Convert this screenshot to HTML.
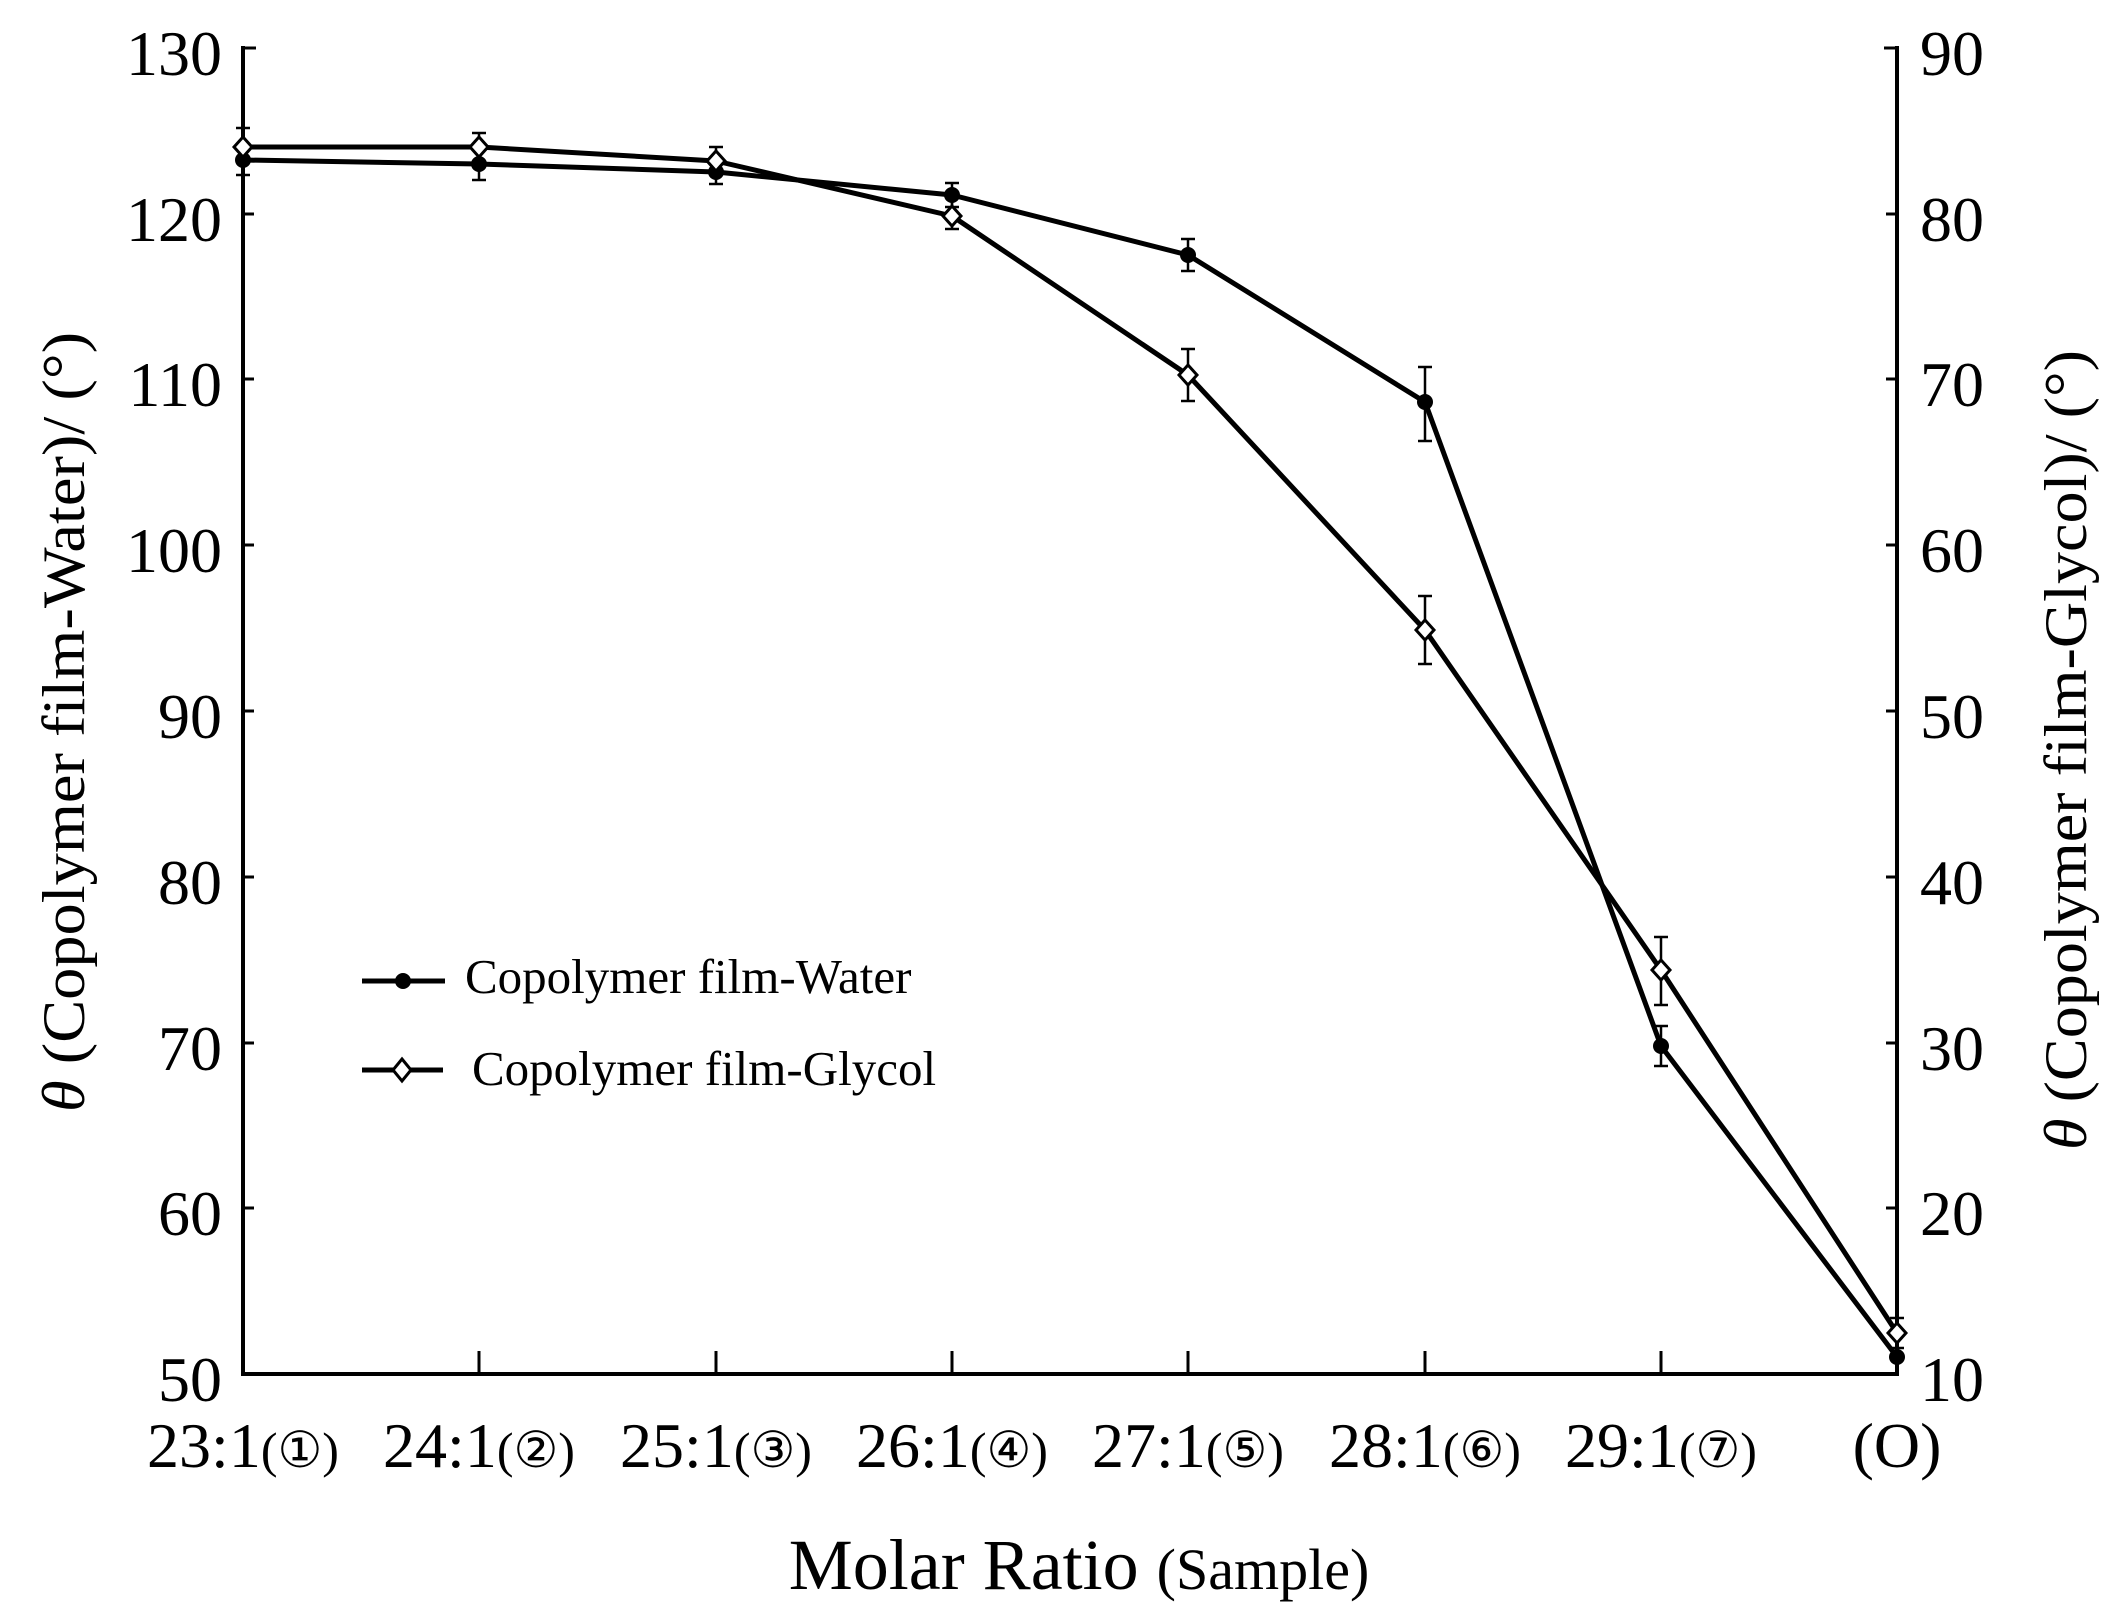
<!DOCTYPE html>
<html><head><meta charset="utf-8"><style>
html,body{margin:0;padding:0;background:#fff;}
svg{display:block;}
text{font-family:"Liberation Serif",serif;fill:#000;}
</style></head><body>
<svg width="2122" height="1604" viewBox="0 0 2122 1604" xmlns="http://www.w3.org/2000/svg">
<g stroke="#000" stroke-width="4" fill="none">
  <line x1="243" y1="46" x2="243" y2="1376"/>
  <line x1="241" y1="1374" x2="1899" y2="1374"/>
  <line x1="1897" y1="46" x2="1897" y2="1376"/>
</g>
<g stroke="#000" stroke-width="3">
  <line x1="243" y1="48" x2="256" y2="48"/><line x1="243" y1="214" x2="254" y2="214"/><line x1="243" y1="379" x2="254" y2="379"/><line x1="243" y1="545" x2="254" y2="545"/><line x1="243" y1="711" x2="254" y2="711"/><line x1="243" y1="877" x2="254" y2="877"/><line x1="243" y1="1043" x2="254" y2="1043"/><line x1="243" y1="1208" x2="254" y2="1208"/>
  <line x1="1884" y1="48" x2="1897" y2="48"/><line x1="1886" y1="214" x2="1897" y2="214"/><line x1="1886" y1="379" x2="1897" y2="379"/><line x1="1886" y1="545" x2="1897" y2="545"/><line x1="1886" y1="711" x2="1897" y2="711"/><line x1="1886" y1="877" x2="1897" y2="877"/><line x1="1886" y1="1043" x2="1897" y2="1043"/><line x1="1886" y1="1208" x2="1897" y2="1208"/>
  <line x1="479" y1="1351" x2="479" y2="1374"/><line x1="716" y1="1351" x2="716" y2="1374"/><line x1="952" y1="1351" x2="952" y2="1374"/><line x1="1188" y1="1351" x2="1188" y2="1374"/><line x1="1425" y1="1351" x2="1425" y2="1374"/><line x1="1661" y1="1351" x2="1661" y2="1374"/>
</g>
<g font-size="64" text-anchor="end">
  <text x="222" y="75">130</text><text x="222" y="241">120</text><text x="222" y="406">110</text><text x="222" y="572">100</text><text x="222" y="738">90</text><text x="222" y="904">80</text><text x="222" y="1070">70</text><text x="222" y="1235">60</text><text x="222" y="1401">50</text>
</g>
<g font-size="64" text-anchor="start">
  <text x="1920" y="75">90</text><text x="1920" y="241">80</text><text x="1920" y="406">70</text><text x="1920" y="572">60</text><text x="1920" y="738">50</text><text x="1920" y="904">40</text><text x="1920" y="1070">30</text><text x="1920" y="1235">20</text><text x="1920" y="1401">10</text>
</g>
<g font-size="64" text-anchor="middle">
  <text x="243" y="1467">23:1<tspan font-size="50">(①)</tspan></text>
  <text x="479" y="1467">24:1<tspan font-size="50">(②)</tspan></text>
  <text x="716" y="1467">25:1<tspan font-size="50">(③)</tspan></text>
  <text x="952" y="1467">26:1<tspan font-size="50">(④)</tspan></text>
  <text x="1188" y="1467">27:1<tspan font-size="50">(⑤)</tspan></text>
  <text x="1425" y="1467">28:1<tspan font-size="50">(⑥)</tspan></text>
  <text x="1661" y="1467">29:1<tspan font-size="50">(⑦)</tspan></text>
  <text x="1897" y="1467">(O)</text>
</g>
<text x="1079" y="1589" text-anchor="middle" font-size="72">Molar Ratio <tspan font-size="58">(Sample)</tspan></text>
<text transform="translate(84,722) rotate(-90)" text-anchor="middle" font-size="60" textLength="780" lengthAdjust="spacingAndGlyphs"><tspan font-style="italic">θ</tspan> (Copolymer film-Water)/ (°)</text>
<text transform="translate(2086,750) rotate(-90)" text-anchor="middle" font-size="60" textLength="800" lengthAdjust="spacingAndGlyphs"><tspan font-style="italic">θ</tspan> (Copolymer film-Glycol)/ (°)</text>
<g stroke="#000" stroke-width="2.5">
  <line x1="243" y1="145" x2="243" y2="175"/><line x1="236" y1="175" x2="250" y2="175"/>
  <line x1="479" y1="148" x2="479" y2="180"/><line x1="472" y1="180" x2="486" y2="180"/>
  <line x1="716" y1="160" x2="716" y2="184"/><line x1="709" y1="184" x2="723" y2="184"/>
  <line x1="952" y1="183" x2="952" y2="207"/><line x1="945" y1="183" x2="959" y2="183"/><line x1="945" y1="207" x2="959" y2="207"/>
  <line x1="1188" y1="239" x2="1188" y2="271"/><line x1="1181" y1="239" x2="1195" y2="239"/><line x1="1181" y1="271" x2="1195" y2="271"/>
  <line x1="1425" y1="367" x2="1425" y2="441"/><line x1="1418" y1="367" x2="1432" y2="367"/><line x1="1418" y1="441" x2="1432" y2="441"/>
  <line x1="1661" y1="1026" x2="1661" y2="1066"/><line x1="1654" y1="1026" x2="1668" y2="1026"/><line x1="1654" y1="1066" x2="1668" y2="1066"/>
  <line x1="243" y1="128" x2="243" y2="166"/><line x1="236" y1="128" x2="250" y2="128"/>
  <line x1="479" y1="133" x2="479" y2="161"/><line x1="472" y1="133" x2="486" y2="133"/>
  <line x1="716" y1="147" x2="716" y2="175"/><line x1="709" y1="147" x2="723" y2="147"/>
  <line x1="952" y1="203" x2="952" y2="229"/><line x1="945" y1="229" x2="959" y2="229"/>
  <line x1="1188" y1="349" x2="1188" y2="401"/><line x1="1181" y1="349" x2="1195" y2="349"/><line x1="1181" y1="401" x2="1195" y2="401"/>
  <line x1="1425" y1="596" x2="1425" y2="664"/><line x1="1418" y1="596" x2="1432" y2="596"/><line x1="1418" y1="664" x2="1432" y2="664"/>
  <line x1="1661" y1="937" x2="1661" y2="1005"/><line x1="1654" y1="937" x2="1668" y2="937"/><line x1="1654" y1="1005" x2="1668" y2="1005"/>
  <line x1="1897" y1="1318" x2="1897" y2="1348"/><line x1="1890" y1="1318" x2="1904" y2="1318"/><line x1="1890" y1="1348" x2="1904" y2="1348"/>
</g>
<polyline fill="none" stroke="#000" stroke-width="5" stroke-linejoin="round"
 points="243,160 479,164 716,172 952,195 1188,255 1425,402 1661,1046 1897,1357"/>
<g fill="#000">
  <circle cx="243" cy="160" r="8"/><circle cx="479" cy="164" r="8"/><circle cx="716" cy="172" r="8"/><circle cx="952" cy="195" r="8"/><circle cx="1188" cy="255" r="8"/><circle cx="1425" cy="402" r="8"/><circle cx="1661" cy="1046" r="8"/><circle cx="1897" cy="1357" r="8"/>
</g>
<polyline fill="none" stroke="#000" stroke-width="5" stroke-linejoin="round"
 points="243,147 479,147 716,161 952,216 1188,375 1425,630 1661,970 1897,1333"/>
<g fill="#fff" stroke="#000" stroke-width="3">
  <polygon points="243,137 252,147 243,157 234,147"/>
  <polygon points="479,137 488,147 479,157 470,147"/>
  <polygon points="716,151 725,161 716,171 707,161"/>
  <polygon points="952,206 961,216 952,226 943,216"/>
  <polygon points="1188,365 1197,375 1188,385 1179,375"/>
  <polygon points="1425,620 1434,630 1425,640 1416,630"/>
  <polygon points="1661,960 1670,970 1661,980 1652,970"/>
  <polygon points="1897,1323 1906,1333 1897,1343 1888,1333"/>
</g>
<line x1="362" y1="981" x2="445" y2="981" stroke="#000" stroke-width="5"/>
<circle cx="403" cy="981" r="8" fill="#000"/>
<text x="465" y="993" font-size="49">Copolymer film-Water</text>
<line x1="362" y1="1070" x2="443" y2="1070" stroke="#000" stroke-width="5"/>
<polygon points="402,1059 411,1070 402,1081 393,1070" fill="#fff" stroke="#000" stroke-width="3"/>
<text x="472" y="1085" font-size="49">Copolymer film-Glycol</text>
</svg>
</body></html>
